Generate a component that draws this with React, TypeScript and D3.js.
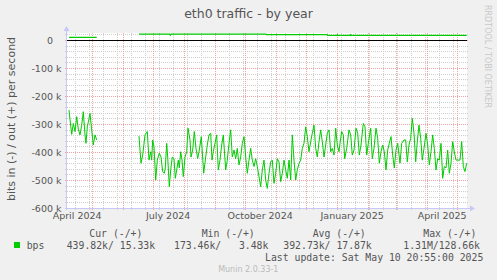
import React from 'react';
import * as d3 from 'd3';

const W = 497;
const H = 280;
const START = new Date(Date.UTC(2024, 3, 5, 20, 55));
const END = new Date(Date.UTC(2025, 4, 10, 20, 55));

// days after START, kbit/s (in plotted negative); null = no data
const inDays = [
  2, 3.5, 4.7, 6.3, 8, 9.7, 11.3, 13, 14.7, 16.3, 18, 19, 20.3, 21.5, 23, 24.7, 26.3, 28, 29.7,
  50,
  72, 74, 75.7, 78, 80.3, 82, 83.7, 84.7, 85.7, 87, 88.7, 90.3, 92.3, 94, 95.7, 97.3, 98.3, 99.7,
  100.7, 102.3, 103.7, 105.3, 107, 108.3, 109.7, 111.3, 112.3, 113.7, 115, 116.3, 118, 119.7,
  121, 123, 124, 125.7, 127.3, 129, 130.7, 132.3, 134.3, 136.7, 138.7, 140.3, 142, 143.7, 145,
  146.3, 148, 149.7, 151.3, 153, 154.7, 156.3, 158.7, 160.3, 162, 163.7, 165.3, 167, 168.7,
  170.3, 172, 173.7, 175.3, 177, 178.7, 180.3, 182, 183.7, 185.3, 187, 188.7, 190.3, 192, 193.7,
  195.3, 197, 198.7, 200.3, 202, 203.7, 205.3, 207, 208.7, 210.3, 212, 213.7, 215.3, 217, 218.7,
  220.3, 222, 223.7, 225.3, 227, 228.7, 230.3, 232, 233.7, 235.3, 237, 238.7, 240.3, 242, 243.7,
  245.3, 247, 248.7, 250.3, 252, 253.7, 255.3, 257, 258.7, 260.3, 262, 263.7, 265.3, 267, 268.7,
  270.3, 272, 273, 274.7, 276.3, 277.7, 279.7, 282, 283.7, 285.3, 287, 289, 290.7, 292.3, 294,
  296.3, 298, 299.7, 301.3, 303.7, 305.3, 307, 309, 310.7, 312.3, 314, 315.7, 317.3, 319, 320.7,
  322.3, 324, 325.7, 327.3, 329, 330.7, 333, 334.7, 337, 338.7, 340.3, 342, 343.7, 345.3, 347,
  348.7, 350.3, 352, 353.7, 355.3, 357, 359, 360.7, 362.3, 364, 365.7, 367.3, 369, 370.7, 372.3,
  374, 375.7, 377.3, 379, 380.7, 382.3, 384, 385.7, 387.3, 389, 390.7, 393, 394.7, 396.3, 398, 399.7,
];
const inValues: (number | null)[] = [
  -250, -300, -337, -298, -327, -274, -318, -339, -304, -256, -339, -369, -310, -290, -262, -321, -375, -339, -357,
  null,
  -343, -440, -411, -339, -327, -429, -399, -429, -357, -381, -500, -429, -404, -418, -470, -476, -457, -369,
  -418, -524, -464, -418, -424, -494, -464, -429, -457, -399, -429, -488, -418, -399,
  -315, -357, -418, -393, -327, -387, -423, -393, -345, -476, -418, -375, -339, -333, -429,
  -399, -369, -339, -464, -429, -375, -339, -464, -429, -369, -321, -418, -393, -424,
  -387, -446, -418, -369, -345, -418, -476, -429, -387, -429, -452, -424, -452, -488, -524,
  -464, -429, -500, -530, -476, -435, -429, -512, -476, -424, -435, -506, -476, -429, -464,
  -494, -429, -500, -339, -429, -500, -464, -441, -429, -387, -369, -310, -345, -399, -363,
  -333, -304, -387, -418, -363, -321, -363, -418, -375, -333, -321, -399, -387, -411, -315,
  -375, -399, -369, -327, -339, -424, -387, -321, -339, -411, -393, -315, -333, -411, -375,
  -298, -310, -411, -369, -315, -424, -387, -315, -351, -440, -399, -375, -399, -464, -393,
  -369, -345, -411, -457, -393, -369, -440, -369, -357, -357, -435, -375, -351, -280, -333,
  -435, -363, -304, -351, -429, -387, -333, -375, -446, -399, -339, -387, -464, -424, -429,
  -369, -494, -452, -457, -393, -476, -440, -363, -399, -429, -429, -429, -363, -452, -470, -440,
];

const outDays = [2, 29.7, 50, 72, 102.5, 103.3, 104.2, 199, 199.5, 260, 260.5, 269.5, 270.3, 271, 283, 283.7, 284.5, 399.7];
const outValues: (number | null)[] = [9.6, 9.6, null, 21, 21, 17, 21, 21, 19, 19, 16.5, 16.5, 19, 16.5, 16.5, 19, 16.5, 16.5];

const yTicks = [0, -100, -200, -300, -400, -500, -600];
const xLabelMonths = ['2024-04-01', '2024-07-01', '2024-10-01', '2025-01-01', '2025-04-01'];
const legendHeaders = ['Cur (-/+)', 'Min (-/+)', 'Avg (-/+)', 'Max (-/+)'];
const legendValues = ['439.82k/ 15.33k', '173.46k/   3.48k', '392.73k/ 17.87k', '1.31M/128.66k'];
const legendHeaderX = [89.3, 201.7, 312.7, 423.3];
const legendValueX = [66.7, 174, 283.3, 403.3];

const L = 67, R = 467, T = 33, B = 208;
const GREEN = '#00cc00';
const SANS = 'DejaVu Sans, sans-serif';
const MONO = 'DejaVu Sans Mono, monospace';

export default function App() {
  const x = d3.scaleUtc().domain([START, END]).range([L, R]);
  const y = d3.scaleLinear().domain([-600, 25]).range([B, T]);
  const dayToDate = (d: number) => new Date(START.getTime() + d * 86400000);

  const inPts = inDays.map((d, i) => ({ t: dayToDate(d), v: inValues[i] }));
  const outPts = outDays.map((d, i) => ({ t: dayToDate(d), v: outValues[i] }));
  const line = d3
    .line<{ t: Date; v: number | null }>()
    .defined((p) => p.v != null)
    .x((p) => x(p.t))
    .y((p) => y(p.v as number));

  const majorX = d3.utcMonth.range(START, END);
  const minorX = d3.utcDay.range(new Date(Date.UTC(2024, 3, 14)), END, 14);
  const minorY = d3.range(-600, 21, 20).filter((v) => v % 100 !== 0);
  const majorY = d3.range(-600, 1, 100);
  const px = (v: number) => Math.round(v) + 0.5;

  return (
    <svg width={W} height={H} style={{ position: 'absolute', left: 0, top: 0 }}>
      <rect x={0} y={0} width={W} height={H} fill="#f0f0f0" />
      <rect x={L} y={T} width={R - L} height={B - T} fill="#ffffff" />
      <text x={248.5} y={17.5} textAnchor="middle" fontFamily={SANS} fontSize={12.5} fill="#555">
        eth0 traffic - by year
      </text>
      <text
        transform="translate(485,5) rotate(90)"
        fontFamily={SANS}
        fontSize={8}
        fill="#c8c8c8"
      >
        RRDTOOL / TOBI OETIKER
      </text>
      {/* grid */}
      {minorY.map((v) => (
        <line key={'my' + v} x1={L - 2} x2={R + 2} y1={px(y(v))} y2={px(y(v))} stroke="#cfcfcf" strokeDasharray="1,1" />
      ))}
      {minorX.map((d, i) => (
        <line key={'mx' + i} x1={px(x(d))} x2={px(x(d))} y1={T} y2={B + 2} stroke="#cfcfcf" strokeDasharray="1,1" />
      ))}
      {majorY.map((v) => (
        <line key={'My' + v} x1={L - 2} x2={R + 2} y1={px(y(v))} y2={px(y(v))} stroke="#f2a4a4" strokeDasharray="1,1" />
      ))}
      {majorX.map((d, i) => (
        <line key={'Mx' + i} x1={px(x(d))} x2={px(x(d))} y1={T} y2={B + 2} stroke="#f2a4a4" strokeDasharray="1,1" />
      ))}
      {/* axes */}
      <line x1={L - 0.5} x2={L - 0.5} y1={B + 2} y2={T - 4} stroke="#c8c8f8" />
      <polygon points={`${L - 3.5},${T - 2} ${L + 2.5},${T - 2} ${L - 0.5},${T - 7}`} fill="#c8c8f8" />
      <line x1={L - 2} x2={R + 4} y1={B + 0.5} y2={B + 0.5} stroke="#c8c8f8" />
      <polygon points={`${R + 3},${B - 2.5} ${R + 3},${B + 3.5} ${R + 8},${B + 0.5}`} fill="#c8c8f8" />
      {/* y labels */}
      {yTicks.map((v) => (
        <text
          key={'yl' + v}
          x={v === 0 ? 53 : 61.5}
          y={y(v) + 3.5}
          textAnchor="end"
          fontFamily={SANS}
          fontSize={9.5}
          fill="#555"
        >
          {v === 0 ? '0' : `${v} k`}
        </text>
      ))}
      <text
        transform={`translate(15,119) rotate(-90)`}
        textAnchor="middle"
        fontFamily={SANS}
        fontSize={11}
        fill="#555"
      >
        bits in (-) / out (+) per second
      </text>
      {/* x labels */}
      {xLabelMonths.map((s) => {
        const d = new Date(s + 'T00:00:00Z');
        return (
          <text
            key={s}
            x={x(d3.utcDay.offset(d, 15))}
            y={219}
            textAnchor="middle"
            fontFamily={SANS}
            fontSize={9.5}
            fill="#555"
          >
            {d3.utcFormat('%B %Y')(d)}
          </text>
        );
      })}
      {/* data */}
      <line x1={L} x2={R} y1={y(0) + 0.5} y2={y(0) + 0.5} stroke="#000" strokeWidth={1} />
      <path d={line(outPts) || ''} fill="none" stroke={GREEN} strokeWidth={1.2} />
      <path d={line(inPts) || ''} fill="none" stroke={GREEN} strokeWidth={1} />
      {/* legend */}
      {legendHeaders.map((h, i) => (
        <text key={h} x={legendHeaderX[i]} y={237} fontFamily={MONO} fontSize={9.8} fill="#555" style={{ whiteSpace: 'pre' }}>
          {h}
        </text>
      ))}
      <rect x={14} y={242} width={6} height={6} fill={GREEN} />
      <text x={26.7} y={249} fontFamily={MONO} fontSize={9.8} fill="#555">
        bps
      </text>
      {legendValues.map((v, i) => (
        <text key={v} x={legendValueX[i]} y={249} fontFamily={MONO} fontSize={9.8} fill="#555" style={{ whiteSpace: 'pre' }}>
          {v}
        </text>
      ))}
      <text x={483.3} y={261} textAnchor="end" fontFamily={MONO} fontSize={9.8} fill="#555" style={{ whiteSpace: 'pre' }}>
        Last update: Sat May 10 20:55:00 2025
      </text>
      <text x={248.3} y={272} textAnchor="middle" fontFamily={SANS} fontSize={8} fill="#bbb">
        Munin 2.0.33-1
      </text>
    </svg>
  );
}
